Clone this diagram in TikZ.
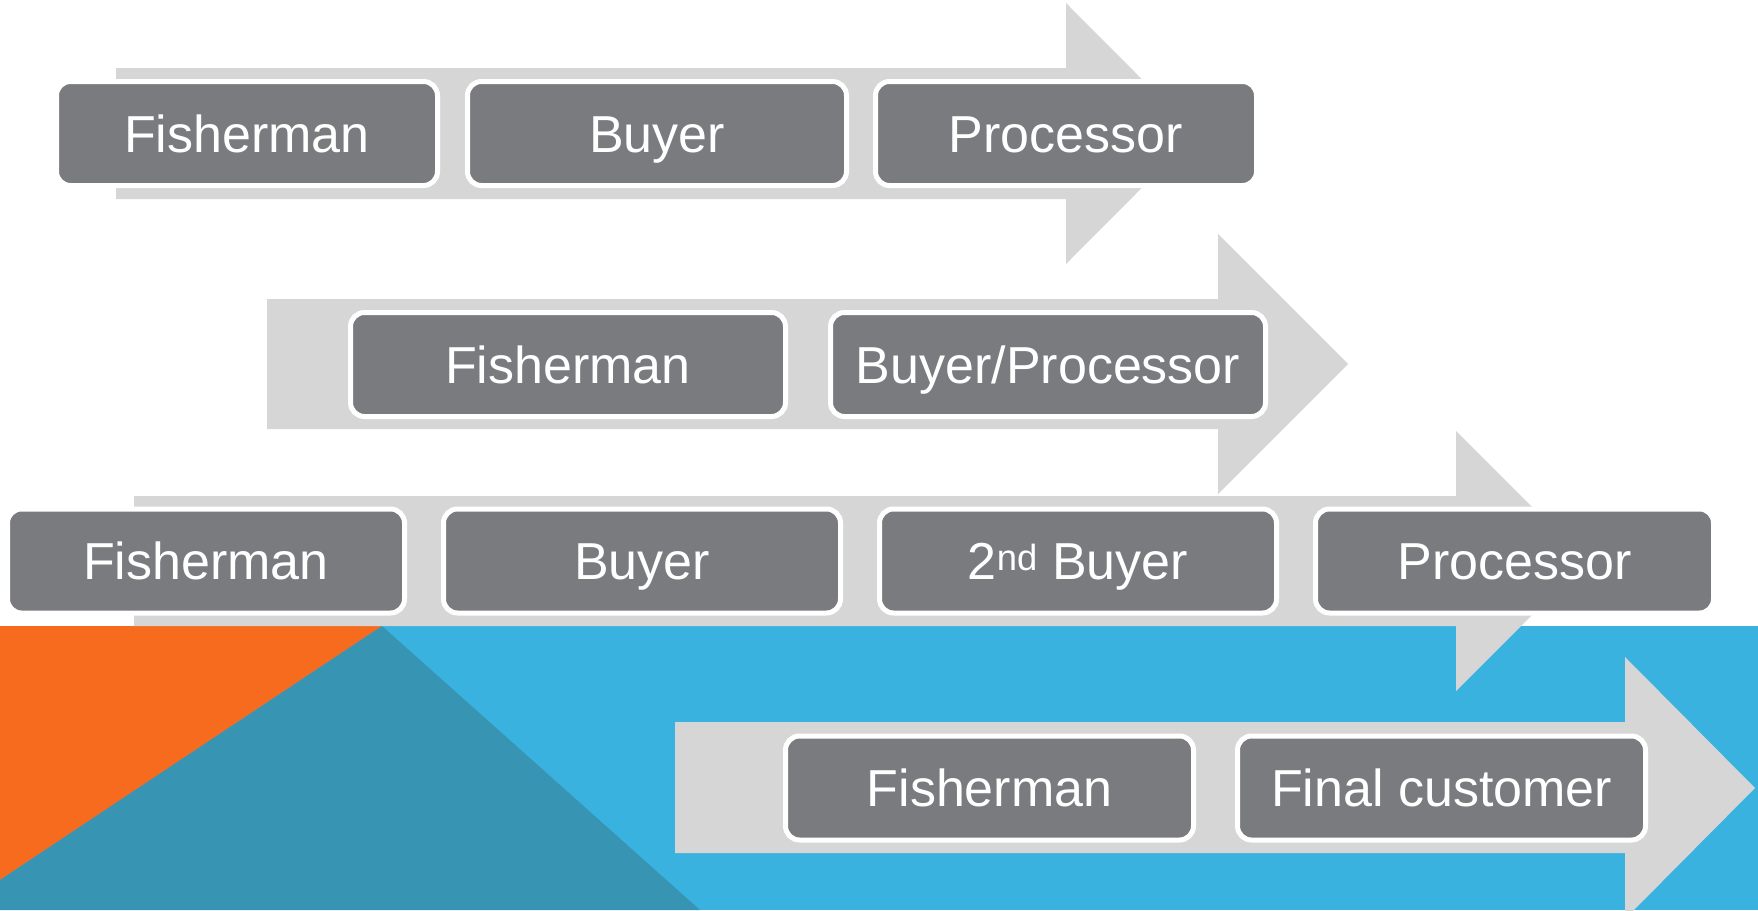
\documentclass[tikz,border=0pt]{standalone}
\usepackage{fontspec}
\setmainfont{Liberation Sans}
\definecolor{arrowgray}{HTML}{D6D6D6}
\definecolor{boxgray}{HTML}{7A7B7F}
\definecolor{bgblue}{HTML}{3AB2E0}
\definecolor{bgorange}{HTML}{F76B1E}
\definecolor{bgteal}{HTML}{3894B3}
\begin{document}
\begin{tikzpicture}[x=1pt,y=-1pt,
  stage/.style={draw=white, line width=5pt, fill=boxgray, rounded corners=14pt,
    text=white, inner sep=0pt, outer sep=0pt, minimum height=104pt,
    font=\fontsize{52}{60}\selectfont, text height=37pt, text depth=0pt, align=center},
  band/.style={fill=arrowgray}]
\useasboundingbox (0,0) rectangle (1758,910);
% background
\fill[bgblue] (0,626) rectangle (1758,910);
\fill[bgorange] (0,626) -- (382,626) -- (0,880) -- cycle;
\fill[bgteal] (382,626) -- (700,910) -- (0,910) -- (0,880) -- cycle;
% arrows
\fill[band] (116,68) -- (1066,68) -- (1066,3) -- (1196,133.5) -- (1066,264) -- (1066,199) -- (116,199) -- cycle;
\fill[band] (267,299) -- (1218,299) -- (1218,234) -- (1348,364) -- (1218,494) -- (1218,429) -- (267,429) -- cycle;
\fill[band] (134,496) -- (1456,496) -- (1456,431) -- (1586,561) -- (1456,691) -- (1456,626) -- (134,626) -- cycle;
\fill[band] (675,722) -- (1625,722) -- (1625,657) -- (1755,788) -- (1625,919) -- (1625,853) -- (675,853) -- cycle;
% row 1
\node[stage, minimum width=381pt] (f1) at (247,133.5) {Fisherman};
\node[stage, minimum width=379pt] (b1) at (657,133.5) {Buyer};
\node[stage, minimum width=381pt] (p1) at (1066,133.5) {Processor};
% row 2
\node[stage, minimum width=435pt] (f2) at (568,364.5) {Fisherman};
\node[stage, minimum width=435pt] (bp2) at (1048,364.5) {Buyer/Processor};
% row 3
\node[stage, minimum width=397pt] (f3) at (206,561) {Fisherman};
\node[stage, minimum width=397pt] (b3) at (642,561) {Buyer};
\node[stage, minimum width=397pt] (bb3) at (1078,561) {2\textsuperscript{nd} Buyer};
\node[stage, minimum width=398pt] (p3) at (1514.5,561) {Processor};
% row 4
\node[stage, minimum width=408pt] (f4) at (989.5,788) {Fisherman};
\node[stage, minimum width=408pt] (fc4) at (1441.5,788) {Final customer};
\end{tikzpicture}
\end{document}
